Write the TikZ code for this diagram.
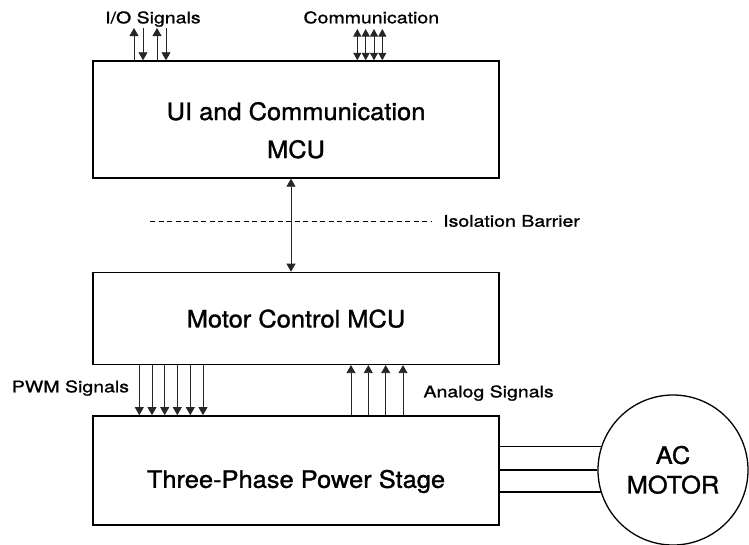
\documentclass[tikz,border=0pt]{standalone}
\usepackage{fontspec}
\usepackage{tikz}
\usetikzlibrary{positioning, arrows.meta}
\newfontfamily\blockfont[FakeStretch=1.06, FakeBold=1.3]{TeX Gyre Heros}
\newfontfamily\labelfont[FakeStretch=1.22, FakeBold=1.1]{TeX Gyre Heros}

\begin{document}
\begin{tikzpicture}[x=1pt, y=-1pt,
      node distance=50pt,
      block/.style={draw, line width=1.4pt, inner sep=0pt, minimum width=406pt,
                    font={\fontsize{24}{38}\selectfont\blockfont}},
      motor/.style={draw, circle, line width=1.3pt, inner sep=0pt, minimum size=150pt,
                    align=center, font={\fontsize{24}{29.6}\selectfont\blockfont}},
      tag/.style={inner sep=0pt, anchor=base west, font={\fontsize{16}{19}\selectfont\labelfont}},
      sig/.style={line width=0.8pt, black!85, >={Triangle[length=8pt, width=9pt]}},
      wire/.style={line width=1.3pt}]
    \useasboundingbox (0,0) rectangle (749,544);
    % blocks
    \node[block, minimum height=117pt, align=center, text height=77pt, text depth=0pt]
         (ui) at (296,119.5) {UI and Communication\\MCU};
    \node[block, minimum height=92pt, text height=18pt, text depth=0pt,
          below=93pt of ui] (mc) {Motor Control MCU};
    \node[block, minimum height=109pt, text height=35pt, text depth=0pt,
          below=of mc] (ps) {Three-Phase Power Stage};
    \node[motor, text height=46.8pt, text depth=0pt] (ac) at (673,470) {AC\\MOTOR};
    % labels
    \node[tag] (iolbl)   at (105,23.3)  {I/O Signals};
    \node[tag] (commlbl) at (303.3,23.3) {Communication};
    \node[tag] (pwmlbl)  at (11.7,392.3) {PWM Signals};
    \node[tag] (anlbl)   at (423.3,397.3) {Analog Signals};
    % isolation barrier
    \coordinate (bl) at (150,221);
    \coordinate (br) at (432,221);
    \draw[line width=0.9pt, dash pattern=on 5pt off 3.5pt] (bl) -- (br);
    \node[tag, anchor=west, xshift=11pt] (iso) at (br) {Isolation Barrier};
    \coordinate (lnk) at (291,221);
    \draw[sig, <->] (lnk |- ui.south) -- (lnk |- mc.north);
    % I/O signals
    \foreach \x [count=\i] in {134,143,157,166}
      \coordinate (io\i) at (\x,28);
    \foreach \i in {1,3}
      \draw[sig, ->] (io\i |- ui.north) -- (io\i);
    \foreach \i in {2,4}
      \draw[sig, ->] (io\i) -- (io\i |- ui.north);
    % communication
    \foreach \x [count=\i] in {357.3,365.7,374,382.3} {
      \coordinate (cm\i) at (\x,29);
      \draw[sig, >={Triangle[length=7.5pt, width=8pt]}, <->] (cm\i) -- (cm\i |- ui.north);
    }
    % PWM signals
    \foreach \x [count=\i] in {139.3,152,164.7,177.3,190.3,203} {
      \coordinate (pw\i) at (\x,390);
      \draw[sig, ->] (pw\i |- mc.south) -- (pw\i |- ps.north);
    }
    % analog signals
    \foreach \x [count=\i] in {351,368.3,385.7,403} {
      \coordinate (an\i) at (\x,390);
      \draw[sig, ->] (an\i |- ps.north) -- (an\i |- mc.south);
    }
    % motor phases
    \foreach \a in {162.14,180,197.86}
      \draw[wire] (ac.\a) -- (ac.\a -| ps.east);
  \end{tikzpicture}
\end{document}
